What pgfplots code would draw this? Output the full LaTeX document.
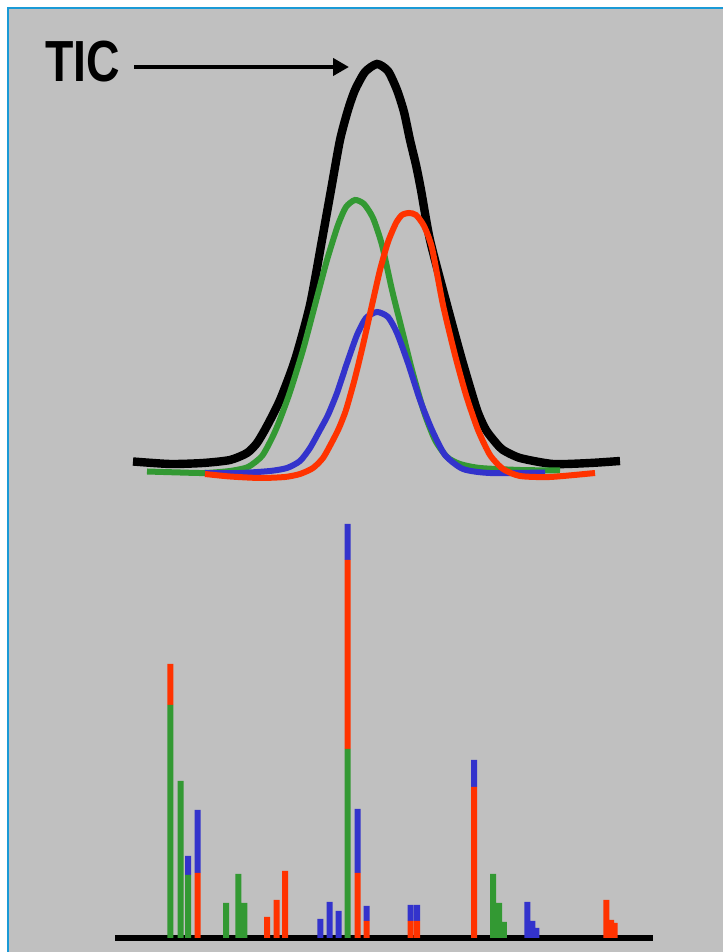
\documentclass[border=0pt]{standalone}
\usepackage{pgfplots}
\pgfplotsset{compat=1.18}
\usepackage{pgfplotstable}
\usepackage{fontspec}
\usepackage{graphicx}
\setmainfont{Liberation Sans}
\usetikzlibrary{arrows.meta}
\definecolor{bggray}{HTML}{C0C0C0}
\definecolor{bordblue}{HTML}{1A9AD6}
\definecolor{cgreen}{HTML}{339933}
\definecolor{cred}{HTML}{FF3300}
\definecolor{cblue}{HTML}{3333CC}

\pgfplotstableread{
x     g    r    b
170.3 233  41   0
180.5 157  0    0
188   63   0    19
197.5 0    65   63
226   35   0    0
238.3 64   0    0
244.3 35   0    0
267   0    21   0
276.7 0    38   0
285.2 0    67   0
320.3 0    0    19
329.7 0    0    36
338.7 0    0    27
347.7 189  189  36
357.7 0    65   64
366.7 0    17   15
410.5 0    17   16
417.2 0    17   16
474   0    151  27
493   64   0    0
499   35   0    0
503.8 16   0    0
527.3 0    0    36
532.3 0    0    17
536.3 0    0    10
606.3 0    38   0
611   0    18   0
614.7 0    15   0
}\bars

\begin{document}
\begin{tikzpicture}
\begin{axis}[
  at={(0pt,0pt)}, anchor=south west,
  scale only axis, width=361.5pt, height=476pt,
  xmin=0, xmax=723, ymin=-14, ymax=938,
  axis lines=none, ticks=none, clip=false,
]
% background and border
\fill[bggray] (axis cs:8,-14) rectangle (axis cs:723,930);
\draw[bordblue, line width=0.8pt] (axis cs:8,-14) -- (axis cs:8,930) -- (axis cs:723,930);

% TIC label and arrow
\node[font=\fontsize{29}{30}\selectfont\bfseries, inner sep=0pt] at (axis cs:82.5,876) {\scalebox{0.80}[1]{TIC}};
\draw[line width=2.2pt, -{Triangle[length=8pt,width=8.5pt]}] (axis cs:134,871) -- (axis cs:349,871);

% chromatogram curves
\addplot[black, line width=4.2pt, smooth, tension=0.4] coordinates {
(133,476.5)(170,474)(203,475)(230,478)(247,485)(257,495)(267,512)(280,538)(295,578)(310,633)(322,698)(331,748)(340,798)(348,828)(355,848)(365,866)(377,874)(388,867)(397,848)(404,826)(410,798)(416,773)(421,748)(430,698)(447,633)(462,578)(477,528)(486,508)(496,495)(503,488)(520,480)(553,474)(590,475)(620,477)
};
\addplot[cgreen, line width=3pt, smooth, tension=0.4] coordinates {
(147,466.5)(180,465.5)(205,465)(230,467)(248,471)(262,482)(272,500)(279,516)(290,546)(303,588)(315,633)(327,678)(338,713)(346,731)(355,738)(364,734)(373,720)(382,693)(392,648)(402,608)(412,568)(424,526)(435,498)(447,481)(460,474)(480,470)(520,468)(560,467.5)
};
\addplot[cblue, line width=3pt, smooth, tension=0.4] coordinates {
(205,465)(240,465)(270,467)(287,470)(300,477)(310,490)(320,508)(328,523)(337,545)(347,575)(357,603)(366,620)(377,626)(388,621)(397,605)(408,575)(420,538)(432,508)(445,483)(463,469)(490,465)(545,465.5)
};
\addplot[cred, line width=3pt, smooth, tension=0.4] coordinates {
(205,464)(230,461.5)(260,460)(285,461)(300,464)(313,470)(323,480)(332,496)(339,510)(346,528)(355,560)(363,593)(372,633)(380,668)(388,696)(396,715)(402,723)(409,725)(416,723)(424,712)(432,690)(443,633)(455,583)(466,543)(478,508)(490,483)(503,469)(520,462)(550,461)(595,465)
};

% baseline of the spectrum
\addplot[black, line width=3pt] coordinates {(115,0)(653,0)};
\end{axis}
\begin{axis}[
  at={(0pt,0pt)}, anchor=south west,
  scale only axis, width=361.5pt, height=476pt,
  xmin=0, xmax=723, ymin=-14, ymax=938,
  axis lines=none, ticks=none, clip=false,
  ybar stacked, bar width=6,
]
\addplot[fill=cgreen, draw=none] table[x=x, y=g] {\bars};
\addplot[fill=cred, draw=none] table[x=x, y=r] {\bars};
\addplot[fill=cblue, draw=none] table[x=x, y=b] {\bars};
\end{axis}
\pgfresetboundingbox
\path (0pt,0pt) rectangle (361.5pt,476pt);
\end{tikzpicture}
\end{document}
